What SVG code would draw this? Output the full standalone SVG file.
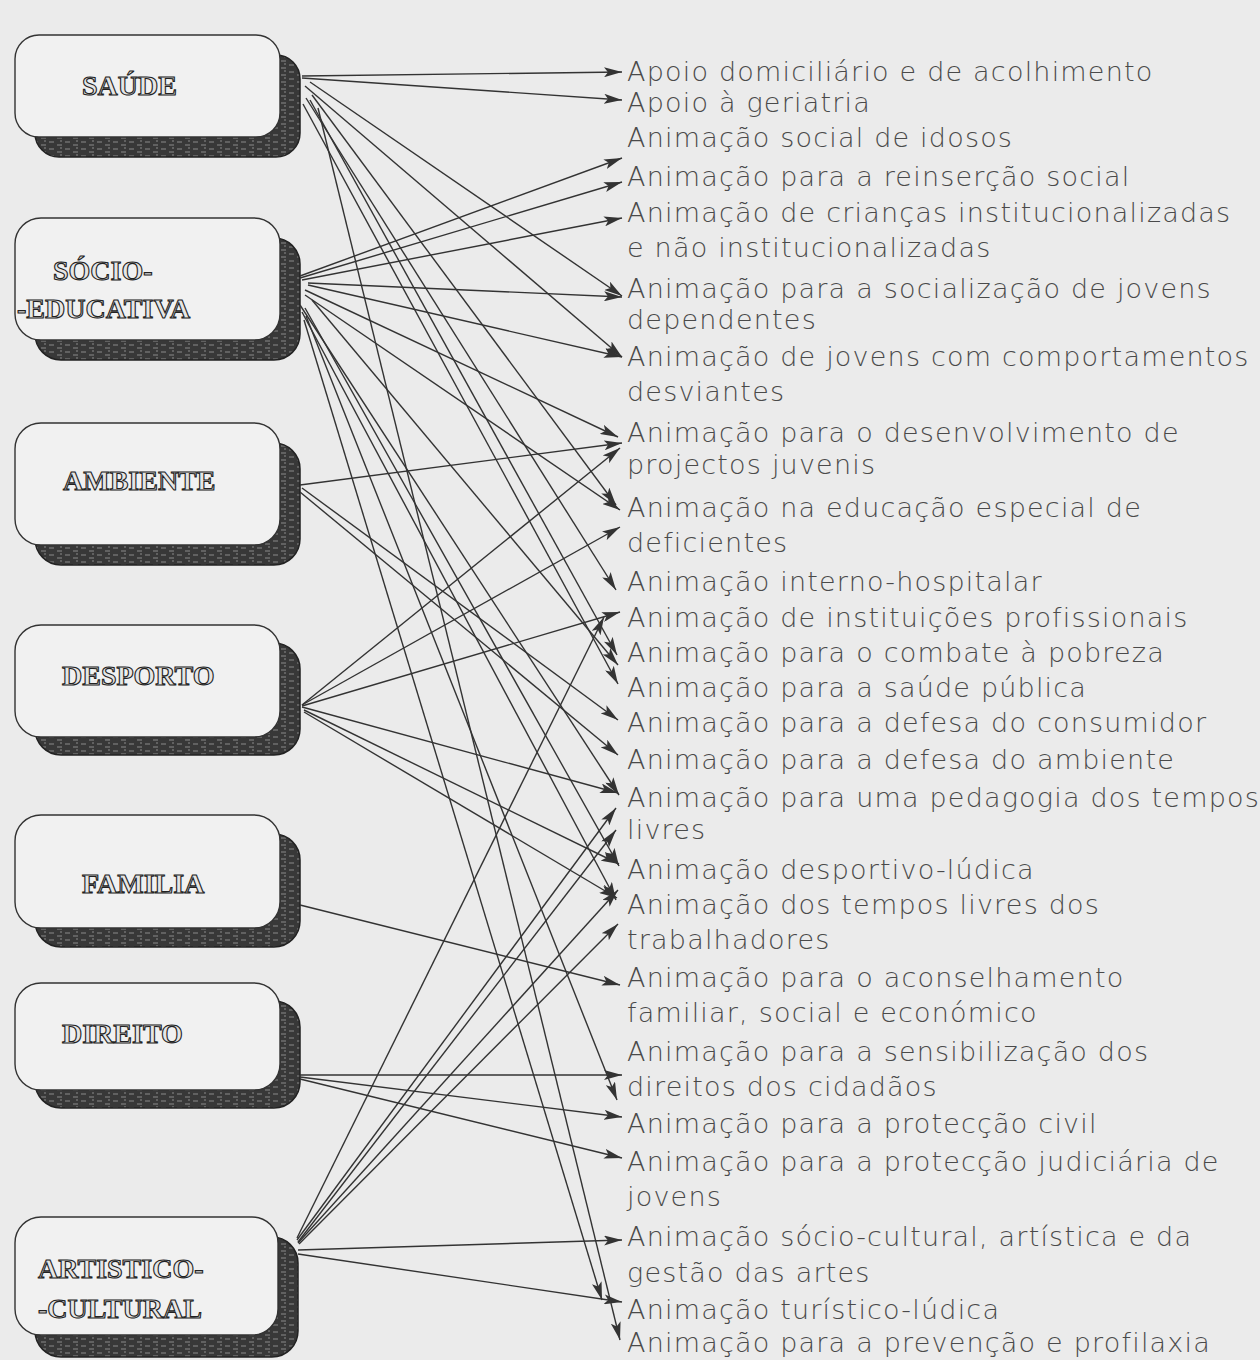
<svg xmlns="http://www.w3.org/2000/svg" width="1260" height="1360" viewBox="0 0 1260 1360">
<style>
.bg{fill:#ebebeb}
.box{fill:#f1f1f1;stroke:#333;stroke-width:1.4}
.shadow{fill:url(#tex);stroke:#222;stroke-width:1.5}
.lbl{font-family:"Liberation Serif",serif;font-weight:bold;font-size:28px;fill:#e6e6e6;stroke:#222;stroke-width:1.1}
.item{font-family:"DejaVu Sans","Liberation Sans",sans-serif;font-weight:200;font-size:27px;letter-spacing:1.2px;fill:#4a4a4a}
.conn line{stroke:#333;stroke-width:1.4;fill:none;marker-end:url(#ah)}
</style>
<defs>
<pattern id="tex" width="16" height="7" patternUnits="userSpaceOnUse">
<rect width="16" height="7" fill="#383838"/>
<path d="M1 2h5M9 5h5M12 1h2" stroke="#8a8a8a" stroke-width="1"/>
</pattern>
<marker id="ah" viewBox="0 0 18 10" refX="18" refY="5" markerWidth="18" markerHeight="10" markerUnits="userSpaceOnUse" orient="auto">
<path d="M0 0L18 5L0 10L4 5z" fill="#333"/>
</marker>
</defs>
<rect class="bg" width="1260" height="1360"/>

<g id="node-saude">
<rect class="shadow" x="35" y="55" width="265" height="102" rx="24"/>
<rect class="box" x="15" y="35" width="265" height="102" rx="24"/>
<text class="lbl" x="82" y="95">SAÚDE</text>
</g>
<g id="node-socio">
<rect class="shadow" x="35" y="238" width="265" height="122" rx="26"/>
<rect class="box" x="15" y="218" width="265" height="122" rx="26"/>
<text class="lbl" x="53" y="280">SÓCIO-</text>
<text class="lbl" x="17" y="318">-EDUCATIVA</text>
</g>
<g id="node-ambiente">
<rect class="shadow" x="35" y="443" width="265" height="122" rx="26"/>
<rect class="box" x="15" y="423" width="265" height="122" rx="26"/>
<text class="lbl" x="63" y="490">AMBIENTE</text>
</g>
<g id="node-desporto">
<rect class="shadow" x="35" y="643" width="265" height="112" rx="26"/>
<rect class="box" x="15" y="625" width="265" height="112" rx="26"/>
<text class="lbl" x="62" y="685">DESPORTO</text>
</g>
<g id="node-familia">
<rect class="shadow" x="35" y="834" width="265" height="113" rx="26"/>
<rect class="box" x="15" y="815" width="265" height="113" rx="26"/>
<text class="lbl" x="82" y="893">FAMILIA</text>
</g>
<g id="node-direito">
<rect class="shadow" x="35" y="1001" width="265" height="107" rx="26"/>
<rect class="box" x="15" y="983" width="265" height="107" rx="26"/>
<text class="lbl" x="62" y="1043">DIREITO</text>
</g>
<g id="node-artistico">
<rect class="shadow" x="35" y="1237" width="263" height="120" rx="26"/>
<rect class="box" x="15" y="1217" width="263" height="118" rx="26"/>
<text class="lbl" x="38" y="1278">ARTISTICO-</text>
<text class="lbl" x="38" y="1318">-CULTURAL</text>
</g>

<g id="connectors" class="conn">
<line x1="302" y1="76" x2="622" y2="72"/>
<line x1="302" y1="78" x2="622" y2="100"/>
<line x1="310" y1="82" x2="622" y2="296"/>
<line x1="305" y1="86" x2="622" y2="357"/>
<line x1="312" y1="95" x2="616" y2="505"/>
<line x1="306" y1="98" x2="616" y2="590"/>
<line x1="310" y1="100" x2="617" y2="655"/>
<line x1="303" y1="104" x2="618" y2="684"/>
<line x1="318" y1="108" x2="620" y2="1340"/>

<line x1="300" y1="276" x2="622" y2="158"/>
<line x1="300" y1="278" x2="622" y2="182"/>
<line x1="302" y1="280" x2="622" y2="218"/>
<line x1="308" y1="283" x2="622" y2="297"/>
<line x1="308" y1="285" x2="622" y2="357"/>
<line x1="305" y1="290" x2="618" y2="437"/>
<line x1="305" y1="295" x2="620" y2="510"/>
<line x1="312" y1="300" x2="618" y2="665"/>
<line x1="300" y1="305" x2="619" y2="795"/>
<line x1="305" y1="308" x2="619" y2="866"/>
<line x1="302" y1="312" x2="616" y2="900"/>
<line x1="306" y1="316" x2="617" y2="1100"/>
<line x1="304" y1="320" x2="602" y2="1300"/>

<line x1="300" y1="485" x2="622" y2="443"/>
<line x1="302" y1="488" x2="618" y2="720"/>
<line x1="300" y1="492" x2="618" y2="755"/>

<line x1="302" y1="705" x2="620" y2="448"/>
<line x1="302" y1="705" x2="620" y2="527"/>
<line x1="302" y1="706" x2="620" y2="612"/>
<line x1="302" y1="707" x2="618" y2="793"/>
<line x1="304" y1="710" x2="619" y2="864"/>
<line x1="304" y1="712" x2="617" y2="898"/>

<line x1="300" y1="905" x2="620" y2="985"/>

<line x1="300" y1="1075" x2="622" y2="1075"/>
<line x1="300" y1="1077" x2="622" y2="1117"/>
<line x1="300" y1="1079" x2="622" y2="1158"/>

<line x1="297" y1="1238" x2="604" y2="617"/>
<line x1="297" y1="1240" x2="616" y2="808"/>
<line x1="298" y1="1242" x2="616" y2="830"/>
<line x1="298" y1="1243" x2="618" y2="890"/>
<line x1="299" y1="1244" x2="618" y2="924"/>
<line x1="298" y1="1250" x2="622" y2="1240"/>
<line x1="298" y1="1254" x2="622" y2="1302"/>
</g>

<g id="items" class="item">
<text x="627" y="81">Apoio domiciliário e de acolhimento</text>
<text x="627" y="112">Apoio à geriatria</text>
<text x="627" y="147">Animação social de idosos</text>
<text x="627" y="186">Animação para a reinserção social</text>
<text x="627" y="222">Animação de crianças institucionalizadas</text>
<text x="627" y="257">e não institucionalizadas</text>
<text x="627" y="298">Animação para a socialização de jovens</text>
<text x="627" y="329">dependentes</text>
<text x="627" y="366">Animação de jovens com comportamentos</text>
<text x="627" y="401">desviantes</text>
<text x="627" y="442">Animação para o desenvolvimento de</text>
<text x="627" y="474">projectos juvenis</text>
<text x="627" y="517">Animação na educação especial de</text>
<text x="627" y="552">deficientes</text>
<text x="627" y="591">Animação interno-hospitalar</text>
<text x="627" y="627">Animação de instituições profissionais</text>
<text x="627" y="662">Animação para o combate à pobreza</text>
<text x="627" y="697">Animação para a saúde pública</text>
<text x="627" y="732">Animação para a defesa do consumidor</text>
<text x="627" y="769">Animação para a defesa do ambiente</text>
<text x="627" y="807">Animação para uma pedagogia dos tempos</text>
<text x="627" y="839">livres</text>
<text x="627" y="879">Animação desportivo-lúdica</text>
<text x="627" y="914">Animação dos tempos livres dos</text>
<text x="627" y="949">trabalhadores</text>
<text x="627" y="987">Animação para o aconselhamento</text>
<text x="627" y="1022">familiar, social e económico</text>
<text x="627" y="1061">Animação para a sensibilização dos</text>
<text x="627" y="1096">direitos dos cidadãos</text>
<text x="627" y="1133">Animação para a protecção civil</text>
<text x="627" y="1171">Animação para a protecção judiciária de</text>
<text x="627" y="1206">jovens</text>
<text x="627" y="1246">Animação sócio-cultural, artística e da</text>
<text x="627" y="1282">gestão das artes</text>
<text x="627" y="1319">Animação turístico-lúdica</text>
<text x="627" y="1352">Animação para a prevenção e profilaxia</text>
</g>
</svg>
